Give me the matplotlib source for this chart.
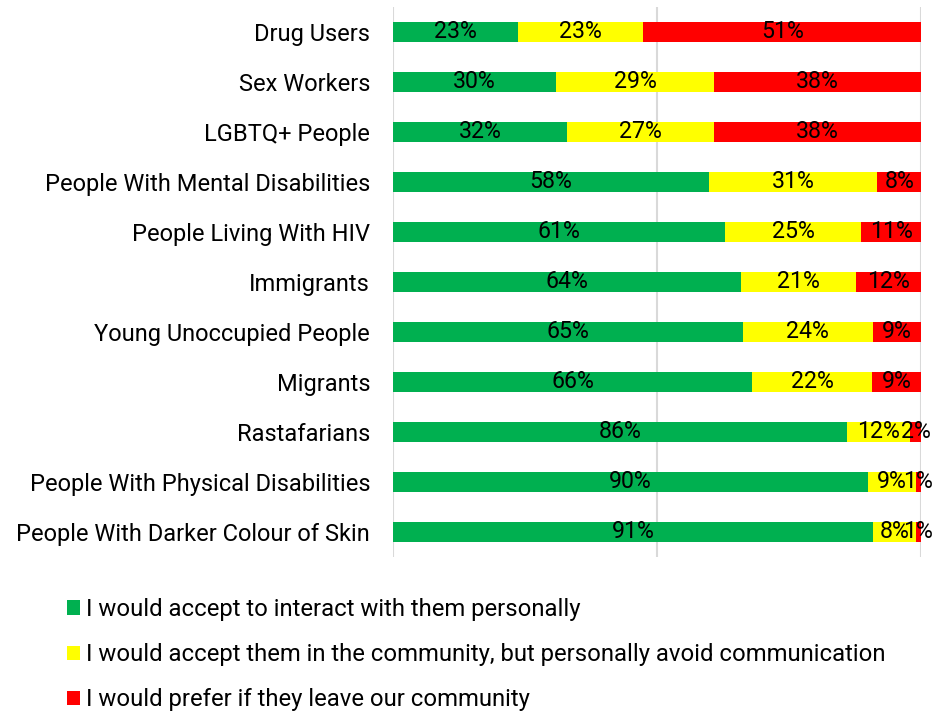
import numpy as np
import matplotlib.pyplot as plt
from matplotlib.patches import Patch

plt.rcParams["font.family"] = ["Roboto", "DejaVu Sans"]

groups = ["Drug Users", "Sex Workers", "LGBTQ+ People", "People With Mental Disabilities",
          "People Living With HIV", "Immigrants", "Young Unoccupied People", "Migrants",
          "Rastafarians", "People With Physical Disabilities", "People With Darker Colour of Skin"]
accept = np.array([23, 30, 32, 58, 61, 64, 65, 66, 86, 90, 91], dtype="float64")
avoid = np.array([23, 29, 27, 31, 25, 21, 24, 22, 12, 9, 8], dtype="float64")
leave = np.array([51, 38, 38, 8, 11, 12, 9, 9, 2, 1, 1], dtype="float64")
legend_labels = ["I would accept to interact with them personally",
                 "I would accept them in the community, but personally avoid communication",
                 "I would prefer if they leave our community"]
colors = ["#00B050", "#FFFF00", "#FF0000"]

series = [accept, avoid, leave]
total = accept + avoid + leave

fig = plt.figure(figsize=(9.35, 7.12), dpi=100)
ax = fig.add_axes([393 / 935, 1 - 557 / 712, 528 / 935, 550 / 712])

# 100% stacked: each row is scaled to its own total
y = np.arange(len(groups))
left = np.zeros(len(groups))
for vals, c in zip(series, colors):
    share = vals / total
    ax.barh(y, share, left=left, height=0.4, color=c, zorder=2)
    for yi, l, s, v in zip(y, left, share, vals):
        ax.text(l + s / 2, yi, f"{v:.0f}%", ha="center", va="center",
                fontsize=16.7, color="black", zorder=3)
    left += share

ax.set_xlim(0, 1)
ax.set_ylim(len(groups) - 0.5, -0.5)
ax.set_yticks(y)
ax.set_yticklabels(groups, fontsize=17)
ax.set_xticks([0, 0.5, 1])
ax.tick_params(axis="x", bottom=False, labelbottom=False)
ax.tick_params(axis="y", left=False, pad=13)
ax.grid(axis="x", color="#d9d9d9", linewidth=1.5, zorder=0)
for s in ax.spines.values():
    s.set_visible(False)

handles = [Patch(facecolor=c) for c in colors]
fig.legend(handles, legend_labels, loc="upper left", bbox_to_anchor=(67 / 935, 1 - 598 / 712),
           frameon=False, fontsize=17.2, handlelength=0.55, handleheight=0.55,
           handletextpad=0.25, labelspacing=0.93, borderaxespad=0, borderpad=0)

fig.savefig("out.png", dpi=100)
